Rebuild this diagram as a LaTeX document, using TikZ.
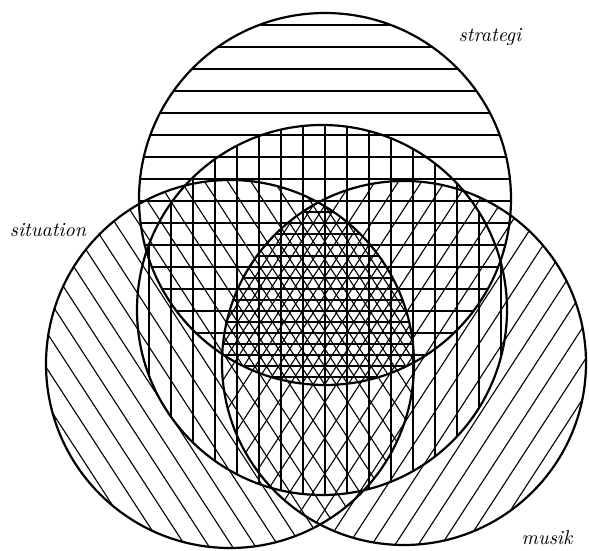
\documentclass[tikz,border=0pt]{standalone}
\usepackage{tikz}

\tikzset{
    hatch/.style={line width=0.55pt},
    rim/.style={line width=1.1pt},
    tag/.style={font=\itshape}
}

\begin{document}
\begin{tikzpicture}[x=0.5pt, y=0.5pt]
    \useasboundingbox (0,0) rectangle (589,551);
    \coordinate (strat) at (325,352);
    \coordinate (mid) at (322,241);
    \coordinate (sit) at (230,187);
    \coordinate (mus) at (404,188);

    % strategi: horizontal lines
    \begin{scope}
        \clip (strat) circle (186);
        \foreach \y in {174,196,...,526}
            \draw[hatch] (100,\y) -- (550,\y);
    \end{scope}
    % middle circle: vertical lines
    \begin{scope}
        \clip (mid) circle (185);
        \foreach \x in {149,171,...,501}
            \draw[hatch] (\x,40) -- (\x,440);
    \end{scope}
    % situation
    \begin{scope}
        \clip (sit) circle (184);
        \begin{scope}[shift={(sit)}, rotate=-57]
            \foreach \k in {-10,...,10}
                \draw[hatch] (-220,\k*19.5) -- (220,\k*19.5);
        \end{scope}
    \end{scope}
    % musik
    \begin{scope}
        \clip (mus) circle (182);
        \begin{scope}[shift={(mus)}, rotate=57]
            \foreach \k in {-10,...,10}
                \draw[hatch] (-220,\k*19.5+6) -- (220,\k*19.5+6);
        \end{scope}
    \end{scope}
    % the core, where all four meet: denser
    \begin{scope}
        \clip (strat) circle (186);
        \clip (sit) circle (184);
        \clip (mus) circle (182);
        \begin{scope}[shift={(sit)}, rotate=-57]
            \foreach \k in {-10,...,10}
                \draw[hatch] (-220,\k*19.5+9.75) -- (220,\k*19.5+9.75);
        \end{scope}
        \begin{scope}[shift={(mus)}, rotate=57]
            \foreach \k in {-10,...,10}
                \draw[hatch] (-220,\k*19.5+15.75) -- (220,\k*19.5+15.75);
        \end{scope}
        \foreach \y in {185,207,...,405}
            \draw[hatch] (200,\y) -- (450,\y);
    \end{scope}

    \draw[rim] (strat) circle (186);
    \draw[rim] (mid) circle (185);
    \draw[rim] (sit) circle (184);
    \draw[rim] (mus) circle (182);

    \node[tag] (stratlabel) at (490,514) {strategi};
    \node[tag] (sitlabel) at (48,321) {situation};
    \node[tag] (muslabel) at (547,13) {musik};
\end{tikzpicture}
\end{document}
